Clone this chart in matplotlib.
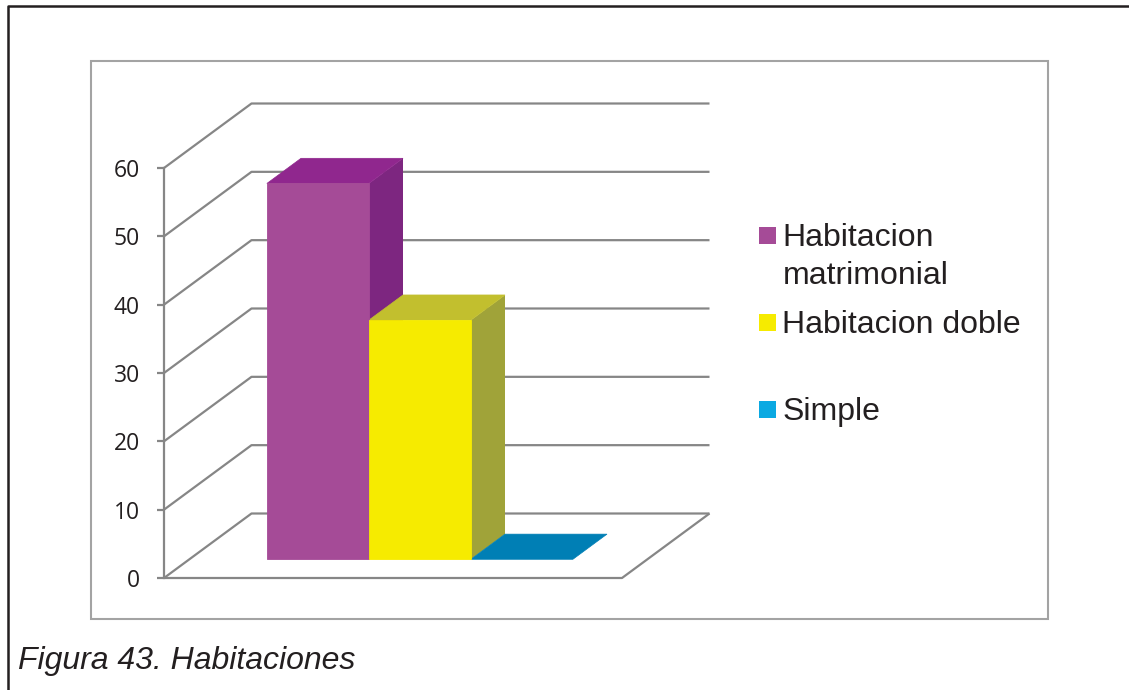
import matplotlib
matplotlib.use("Agg")
import matplotlib.pyplot as plt
from matplotlib.patches import Polygon, Rectangle
from matplotlib.lines import Line2D

categories = ["Habitacion\nmatrimonial", "Habitacion doble", "Simple"]
values = [55, 35, 0]
yticks = [0, 10, 20, 30, 40, 50, 60]
front_colors = ["#A54B97", "#F6EB00", "#0BA9E2"]
top_colors = ["#90278E", "#C2BF2E", "#007FB5"]
side_colors = ["#7D2680", "#A0A339", "#007FB5"]
caption = "Figura 43. Habitaciones"

W, H = 1129, 690
fig = plt.figure(figsize=(W / 100, H / 100), dpi=100, facecolor="white")

def fx(x): return x / W
def fy(y): return 1 - y / H

# Outer page rule and chart frame
fig.add_artist(Line2D([fx(8), fx(8), fx(W)], [fy(H), fy(6), fy(6)], color="#231F20", lw=1.8))
fig.add_artist(Rectangle((fx(91), fy(619)), fx(1048 - 91), (619 - 61) / H, fill=False,
                         edgecolor="#A3A3A3", lw=1.5))

# Axes: the front plane of the oblique 3-D box
L, R, B, T = 164, 622, 578, 168
ax = fig.add_axes([fx(L), fy(B), (R - L) / W, (B - T) / H])
BAR_PX = 102.0
X0 = 241.5            # px position of first bar edge on the front plane
ax.set_xlim((L - X0) / BAR_PX, (R - X0) / BAR_PX)   # one x unit = one bar width
ax.set_ylim(0, 60)
ax.patch.set_alpha(0)

PX_PER_V = (B - T) / 60.0
DX = 87.5 / BAR_PX       # depth offset in x units
DY = 64.5 / PX_PER_V     # depth offset in value units

def proj(x, v, d):
    return (x + d * DX, v + d * DY)

GRID = "#868686"
xl, xr = ax.get_xlim()
line_kw = dict(color=GRID, lw=1.6, clip_on=False, zorder=1, solid_capstyle="butt")
for v in yticks:
    a, b, c = proj(xl, v, 0), proj(xl, v, 1), proj(xr, v, 1)
    ax.plot([a[0], b[0], c[0]], [a[1], b[1], c[1]], **line_kw)
# floor
f1, f2 = proj(xr, 0, 0), proj(xr, 0, 1)
ax.plot([xl, f1[0], f2[0]], [0, f1[1], f2[1]], **line_kw)

# Bars
D0, D1 = 0.29, 0.68
for i, v in enumerate(values):
    x0, x1 = i, i + 1
    if v > 0:
        side = [proj(x1, 0, D0), proj(x1, v, D0), proj(x1, v, D1), proj(x1, 0, D1)]
        ax.add_patch(Polygon(side, closed=True, facecolor=side_colors[i], edgecolor="none",
                             clip_on=False, zorder=2 + i))
    top = [proj(x0, v, D0), proj(x1, v, D0), proj(x1, v, D1), proj(x0, v, D1)]
    ax.add_patch(Polygon(top, closed=True, facecolor=top_colors[i], edgecolor=top_colors[i],
                         lw=0.5, clip_on=False, zorder=2 + i))
for i, v in enumerate(values):
    if v > 0:
        front = [proj(i, 0, D0), proj(i + 1, 0, D0), proj(i + 1, v, D0), proj(i, v, D0)]
        ax.add_patch(Polygon(front, closed=True, facecolor=front_colors[i],
                             edgecolor=front_colors[i], lw=0.6,
                             clip_on=False, zorder=6))

# Value axis
for s in ["top", "right", "bottom"]:
    ax.spines[s].set_visible(False)
ax.spines["left"].set_color(GRID)
ax.spines["left"].set_linewidth(1.6)
ax.set_xticks([])
ax.set_yticks(yticks)
ax.tick_params(axis="y", length=5, width=1.6, color=GRID, pad=12.5, labelcolor="#231F20")
for t in ax.get_yticklabels():
    t.set_fontfamily("Open Sans")
    t.set_fontsize(16.5)

# Legend
leg_y = [235.5, 322.5, 409.5]
base_y = [246, 333, 420]
for name, col, my, by in zip(categories, front_colors, leg_y, base_y):
    fig.add_artist(Rectangle((fx(759), fy(my + 8.5)), 17 / W, 17 / H, facecolor=col, edgecolor="none"))
    lines = name.split("\n")
    for k, line in enumerate(lines):
        fig.text(fx(782.5), fy(by + 37.5 * k), line, family="Liberation Sans", fontsize=23,
                 color="#231F20", ha="left", va="baseline")

# Caption
fig.text(fx(18), fy(669), caption, family="Liberation Sans", style="italic", fontsize=23,
         color="#231F20", ha="left", va="baseline")

fig.savefig("out.png", dpi=100, facecolor="white")
